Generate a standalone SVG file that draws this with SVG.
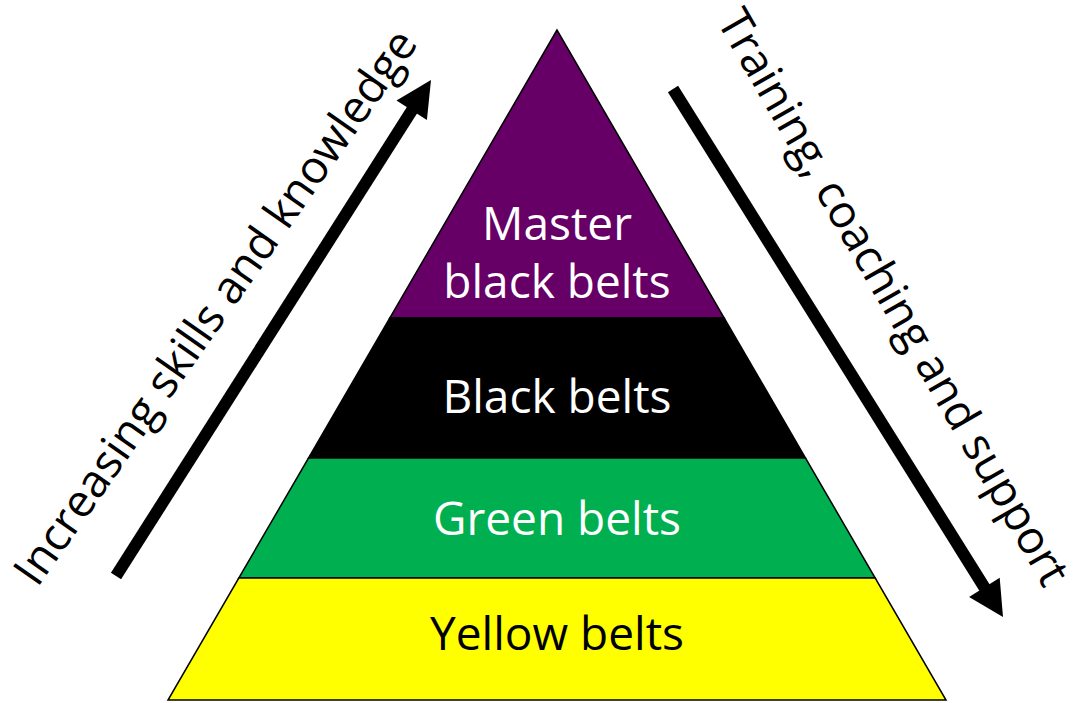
<svg xmlns="http://www.w3.org/2000/svg" width="1075" height="703" viewBox="0 0 1075 703">
<style>
.lbl{font-family:"Open Sans","DejaVu Sans",sans-serif;font-size:46px;text-anchor:middle}
.w{fill:#ffffff}
.k{fill:#000000}
.layer{stroke:#000;stroke-width:1.5;stroke-linejoin:miter}
.side{font-family:"Open Sans","DejaVu Sans",sans-serif;font-size:45.5px;text-anchor:middle;fill:#000}
.shaft{stroke:#000;stroke-width:12}
</style>
<rect width="1075" height="703" fill="#ffffff"/>
<g id="master">
<polygon class="layer" points="557,30 389.8,318 724.2,318" fill="#660066"/>
<text class="lbl w" x="557" y="240">Master</text>
<text class="lbl w" x="557" y="298">black belts</text>
</g>
<g id="black">
<polygon class="layer" points="389.8,318 724.2,318 805.5,458 308.5,458" fill="#000000"/>
<text class="lbl w" x="557" y="413">Black belts</text>
</g>
<g id="green">
<polygon class="layer" points="308.5,458 805.5,458 875.2,578 238.8,578" fill="#00B050"/>
<text class="lbl w" x="557" y="535">Green belts</text>
</g>
<g id="yellow">
<polygon class="layer" points="238.8,578 875.2,578 946,700 168,700" fill="#FFFF00"/>
<text class="lbl k" x="557" y="650">Yellow belts</text>
</g>
<g id="connectors">
<line class="shaft" x1="116" y1="576" x2="414" y2="107"/>
<polygon points="431,80 426.9,120 396.5,100.6" fill="#000"/>
<line class="shaft" x1="673" y1="89" x2="986" y2="590"/>
<polygon points="1003,617 999.7,577.7 969.1,596.9" fill="#000"/>
</g>
<g id="left-label">
<text class="side" transform="translate(228,316) rotate(-55)">Increasing skills and knowledge</text>
</g>
<g id="right-label">
<text class="side" transform="translate(880,305) rotate(60)">Training, coaching and support</text>
</g>
</svg>
